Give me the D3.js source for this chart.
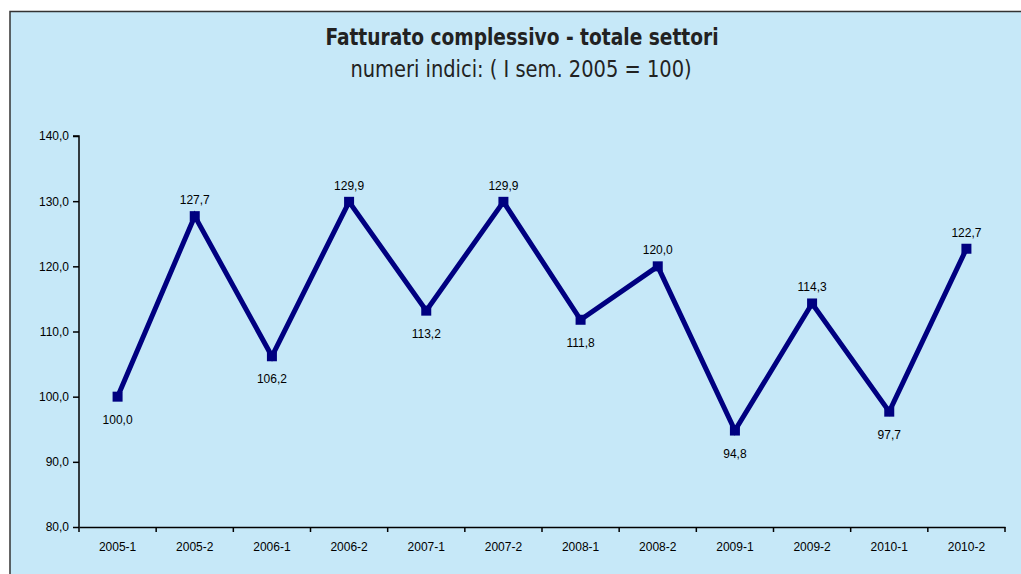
<!DOCTYPE html>
<html>
<head>
<meta charset="utf-8">
<script src="https://cdn.jsdelivr.net/npm/d3@7"></script>
<style>
  body { margin: 0; background: #fff; }
  svg text { font-family: "Liberation Sans", Arial, sans-serif; }
</style>
</head>
<body>
<svg id="chart"></svg>
<script>

const width = 1021;
const height = 574;

const periods = ["2005-1", "2005-2", "2006-1", "2006-2", "2007-1", "2007-2",
                 "2008-1", "2008-2", "2009-1", "2009-2", "2010-1", "2010-2"];
const values = [100.0, 127.7, 106.2, 129.9, 113.2, 129.9, 111.8, 120.0, 94.8, 114.3, 97.7, 122.7];
// label above (1) or below (0) the point
const labelAbove = [0, 1, 0, 1, 0, 1, 0, 1, 0, 1, 0, 1];
const yTicks = [80, 90, 100, 110, 120, 130, 140];

const fmt = v => v.toFixed(1).replace(".", ",");

const svg = d3.select("#chart")
    .attr("width", width)
    .attr("height", height);

// panel
svg.append("rect")
    .attr("x", 11).attr("y", 13)
    .attr("width", width + 10).attr("height", height + 10)
    .attr("fill", "#888");
svg.append("rect")
    .attr("x", 10).attr("y", 11.5)
    .attr("width", width + 10).attr("height", height + 10)
    .attr("fill", "#c6e8f8")
    .attr("stroke", "#333")
    .attr("stroke-width", 1.5);

// title, slightly squeezed to mimic the narrow original face
svg.append("text")
    .attr("transform", "translate(522, 45) scale(0.92, 1)")
    .attr("text-anchor", "middle")
    .style("font-family", "'DejaVu Sans Condensed', 'DejaVu Sans', sans-serif")
    .style("font-weight", "bold")
    .style("font-size", "22.5px")
    .attr("fill", "#222")
    .text("Fatturato complessivo - totale settori");

svg.append("text")
    .attr("transform", "translate(521, 77) scale(0.92, 1)")
    .attr("text-anchor", "middle")
    .style("font-family", "'DejaVu Sans Condensed', 'DejaVu Sans', sans-serif")
    .style("font-size", "23.5px")
    .attr("fill", "#222")
    .text("numeri indici: ( I sem. 2005 = 100)");

const x = d3.scaleBand()
    .domain(periods)
    .range([79, 1005]);

const y = d3.scaleLinear()
    .domain([80, 140])
    .range([527, 136]);

const xAxis = d3.axisBottom(x).tickSize(0).tickPadding(15);
const gx = svg.append("g")
    .attr("transform", `translate(0, ${y(80)})`)
    .call(xAxis);
gx.select(".domain").attr("stroke", "#000").attr("stroke-width", 1.5);
gx.selectAll("text").style("font-size", "12px").attr("fill", "#000");

// ticks between categories
svg.append("g")
    .selectAll("line")
    .data(periods.concat(["end"]))
    .enter()
    .append("line")
    .attr("x1", (d, i) => i < periods.length ? x(d) : x.range()[1])
    .attr("x2", (d, i) => i < periods.length ? x(d) : x.range()[1])
    .attr("y1", y(80))
    .attr("y2", y(80) + 5)
    .attr("stroke", "#000")
    .attr("stroke-width", 1.5);

const yAxis = d3.axisLeft(y)
    .tickValues(yTicks)
    .tickSize(6)
    .tickPadding(4)
    .tickFormat(fmt);
const gy = svg.append("g")
    .attr("transform", `translate(${x.range()[0]}, 0)`)
    .call(yAxis);
gy.select(".domain").attr("stroke", "#000").attr("stroke-width", 1.5).attr("d", `M-6,${y(140)}H0V${y(80)}`);
gy.selectAll(".tick line").attr("stroke", "#000").attr("stroke-width", 1.5);
gy.selectAll("text").style("font-size", "12px").attr("fill", "#000");

const cx = d => x(d) + x.bandwidth() / 2;

const line = d3.line()
    .x((d, i) => cx(periods[i]))
    .y(d => y(d));

svg.append("path")
    .datum(values)
    .attr("d", line)
    .attr("fill", "none")
    .attr("stroke", "#000080")
    .attr("stroke-width", 5)
    .attr("stroke-linejoin", "miter");

svg.selectAll("rect.marker")
    .data(values)
    .enter()
    .append("rect")
    .attr("class", "marker")
    .attr("x", (d, i) => cx(periods[i]) - 5)
    .attr("y", d => y(d) - 5)
    .attr("width", 10)
    .attr("height", 10)
    .attr("fill", "#000080");

svg.selectAll("text.lbl")
    .data(values)
    .enter()
    .append("text")
    .attr("class", "lbl")
    .attr("x", (d, i) => cx(periods[i]))
    .attr("y", (d, i) => labelAbove[i] ? y(d) - 12 : y(d) + 27)
    .attr("text-anchor", "middle")
    .style("font-size", "12px")
    .attr("fill", "#000")
    .text(fmt);

</script>
</body>
</html>
